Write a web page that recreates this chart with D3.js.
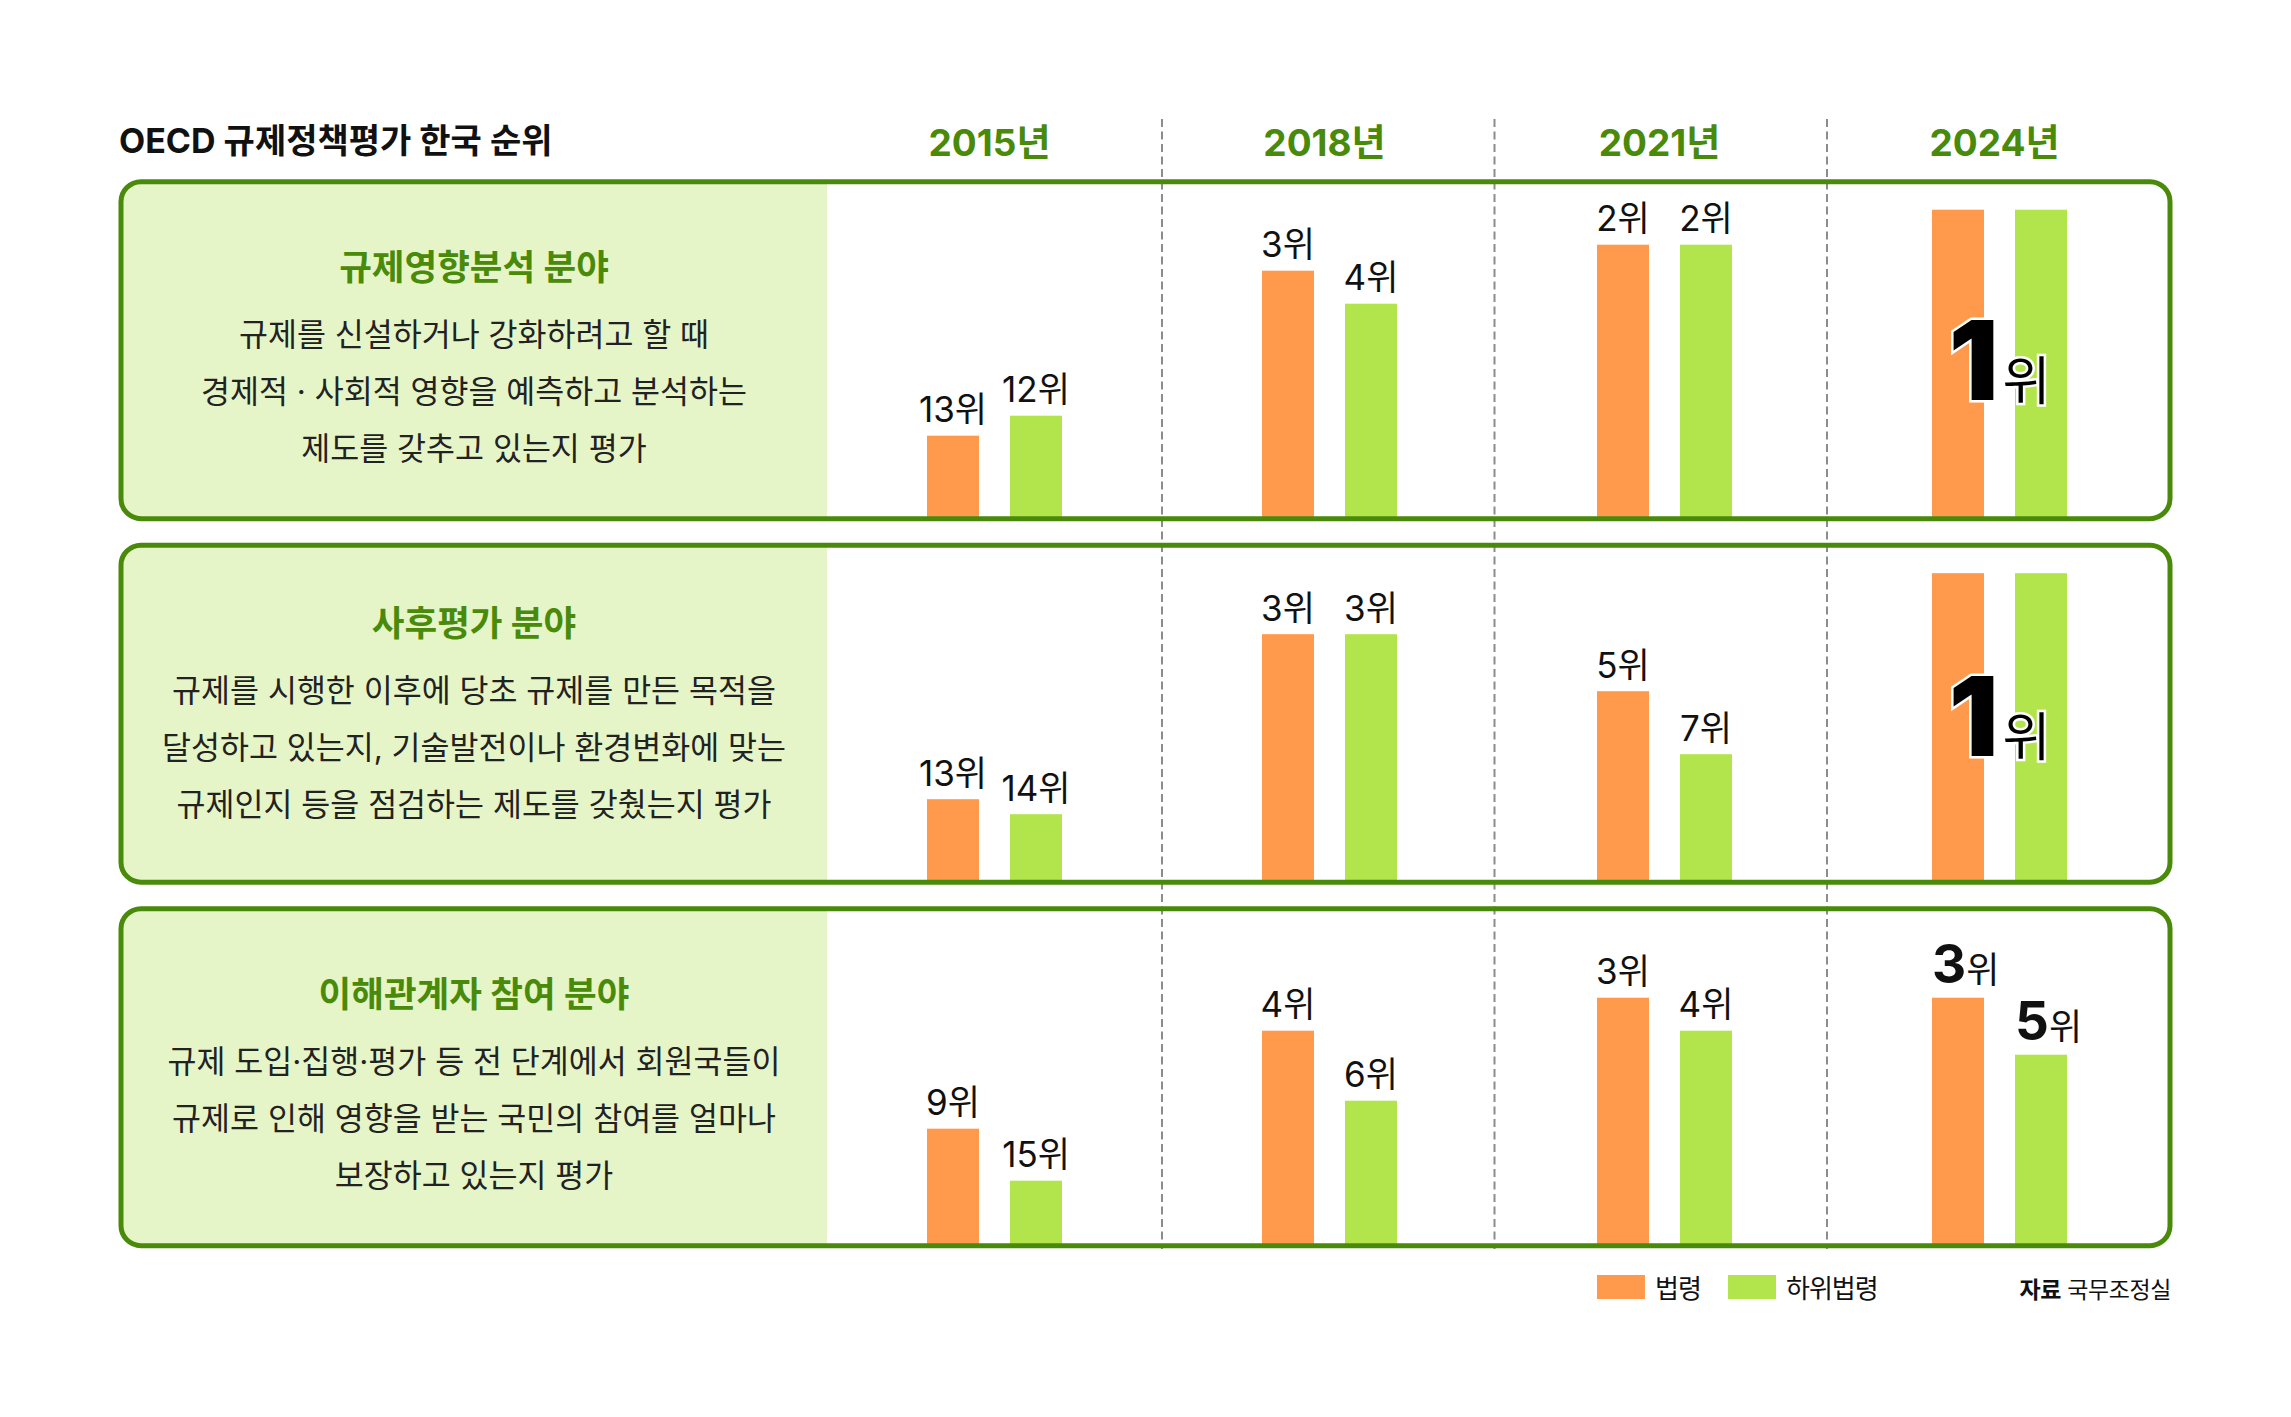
<!DOCTYPE html>
<html><head><meta charset="utf-8">
<script src="https://cdn.jsdelivr.net/npm/d3@7"></script>
<style>
body{margin:0;background:#fff;}
svg{display:block;}
text{font-family:Inter,"Noto Sans CJK KR","Noto Sans",sans-serif;}
</style>
</head><body>
<svg id="chart" width="2291" height="1417"></svg>
<script>
// ---------- data ----------
const title = 'OECD 규제정책평가 한국 순위';
const years = ['2015', '2018', '2021', '2024'];
const yearSuffix = '년';
const series = ['법령', '하위법령'];
const fields = ['규제영향분석 분야', '사후평가 분야', '이해관계자 참여 분야'];
const descriptions = [
  ['규제를 신설하거나 강화하려고 할 때', '경제적 · 사회적 영향을 예측하고 분석하는', '제도를 갖추고 있는지 평가'],
  ['규제를 시행한 이후에 당초 규제를 만든 목적을', '달성하고 있는지, 기술발전이나 환경변화에 맞는', '규제인지 등을 점검하는 제도를 갖췄는지 평가'],
  ['규제 도입·집행·평가 등 전 단계에서 회원국들이', '규제로 인해 영향을 받는 국민의 참여를 얼마나', '보장하고 있는지 평가']
];
const lawRanks    = [[13, 3, 2, 1], [13, 3, 5, 1], [9, 4, 3, 3]];   // 법령
const subLawRanks = [[12, 4, 2, 1], [14, 3, 7, 1], [15, 6, 4, 5]];  // 하위법령
const rankSuffix = '위';
const sourceLabel = '자료';
const sourceName = '국무조정실';

// ---------- layout ----------
const colors = { law: '#ff9a4c', sub: '#b2e44c', green: '#4a8a0a', fill: '#e6f5c8', dash: '#8c8c8c', text: '#222' };
const boxX = 121, boxRight = 2170, infoRight = 827, radius = 20, strokeW = 5;
const textShift = [0, -7, 0];

const svg = d3.select('#chart');
svg.append('rect').attr('width', 2291).attr('height', 1417).attr('fill', '#fff');

const x0 = d3.scaleBand().domain(years).range([827, 2167]);
const x1 = d3.scaleBand().domain(series).range([-67.5, 67.5]).paddingInner(0.3735);
const py = d3.scaleBand().domain(fields).range([181.7, 1245.7]).paddingInner(0.0729);
const sepX = d3.scalePoint().domain(years.slice(1)).range([1162, 1827]);
// rank -> bar height (higher rank = taller bar)
const rankToHeight = d3.scaleLinear()
  .domain([1, 2, 3, 4, 5, 6, 7, 9, 12, 13, 14, 15])
  .range([307, 272, 246, 213, 189, 143, 126, 115, 101, 81, 66, 63]);
const colorOf = d3.scaleOrdinal().domain(series).range([colors.law, colors.sub]);

// title
svg.append('text').attr('x', 119).attr('y', 153)
  .attr('font-size', 34).attr('font-weight', 700).attr('fill', '#111')
  .text(title);

// year headers
svg.selectAll('.year').data(years).join('text')
  .attr('x', d => x0(d) + x0.bandwidth() / 2 - 5).attr('y', 155.5)
  .attr('text-anchor', 'middle').attr('font-size', 37).attr('font-weight', 700)
  .attr('fill', colors.green).text(d => d + yearSuffix);

// dashed separators
svg.selectAll('.sep').data(years.slice(1)).join('line')
  .attr('x1', d => sepX(d)).attr('x2', d => sepX(d))
  .attr('y1', 119).attr('y2', 1249)
  .attr('stroke', colors.dash).attr('stroke-width', 2).attr('stroke-dasharray', '8,4.5');

const defs = svg.append('defs');

fields.forEach((field, i) => {
  const top = py(field), h = py.bandwidth();
  const base = top + h - 2;
  const g = svg.append('g');
  const clipId = 'clip' + i;
  defs.append('clipPath').attr('id', clipId).append('rect')
    .attr('x', boxX).attr('y', top).attr('width', boxRight - boxX).attr('height', h)
    .attr('rx', radius).attr('ry', radius);
  g.append('rect').attr('clip-path', `url(#${clipId})`)
    .attr('x', boxX).attr('y', top).attr('width', infoRight - boxX).attr('height', h)
    .attr('fill', colors.fill);

  const rows = years.map((y, j) => ({ year: y, law: lawRanks[i][j], sub: subLawRanks[i][j] }));
  const bars = [];
  rows.forEach(r => {
    bars.push({ year: r.year, s: series[0], rank: r.law, row: r });
    bars.push({ year: r.year, s: series[1], rank: r.sub, row: r });
  });

  g.selectAll('.bar').data(bars).join('rect')
    .attr('x', d => x0(d.year) + x0.bandwidth() / 2 + x1(d.s))
    .attr('width', x1.bandwidth())
    .attr('y', d => base - rankToHeight(d.rank))
    .attr('height', d => rankToHeight(d.rank) + 2)
    .attr('fill', d => colorOf(d.s));

  g.append('rect')
    .attr('x', boxX).attr('y', top).attr('width', boxRight - boxX).attr('height', h)
    .attr('rx', radius).attr('ry', radius)
    .attr('fill', 'none').attr('stroke', colors.green).attr('stroke-width', strokeW);

  // text block
  const cx = (boxX + infoRight) / 2;
  const ty = top + textShift[i];
  g.append('text').attr('x', cx).attr('y', ty + 98)
    .attr('text-anchor', 'middle').attr('font-size', 35.5).attr('font-weight', 700)
    .attr('fill', colors.green).text(field);
  g.selectAll('.desc').data(descriptions[i]).join('text')
    .attr('x', cx).attr('y', (d, k) => ty + 164 + k * 57)
    .attr('text-anchor', 'middle').attr('font-size', 31.5).attr('fill', colors.text)
    .text(d => d);

  // labels
  const last = years[years.length - 1];
  rows.forEach(r => {
    const gc = x0(r.year) + x0.bandwidth() / 2;
    if (r.law === 1 && r.sub === 1) {
      const t = g.append('text').attr('x', gc).attr('y', ty + 218)
        .attr('text-anchor', 'middle').attr('fill', '#000')
        .attr('stroke', '#fff').attr('stroke-width', 5).attr('paint-order', 'stroke')
        .attr('stroke-linejoin', 'miter');
      t.append('tspan').attr('font-size', 110).attr('font-weight', 900).text(1);
      t.append('tspan').attr('dx', 4).attr('font-size', 52).attr('font-weight', 400).text(rankSuffix);
    } else {
      bars.filter(b => b.row === r).forEach(b => {
        const bx = gc + x1(b.s);
        const topY = base - rankToHeight(b.rank);
        if (r.year === last) {
          const t = g.append('text').attr('x', bx).attr('y', topY - 15).attr('fill', '#111');
          t.append('tspan').attr('font-size', 53).attr('font-weight', 700).text(b.rank);
          t.append('tspan').attr('font-size', 36).attr('font-weight', 400).text(rankSuffix);
        } else {
          g.append('text').attr('x', bx + x1.bandwidth() / 2).attr('y', topY - 13.5)
            .attr('text-anchor', 'middle').attr('font-size', 35).attr('fill', '#111')
            .text(b.rank + rankSuffix);
        }
      });
    }
  });
});

// legend
const lg = svg.append('g');
const legendX = d3.scaleOrdinal().domain(series).range([1597, 1728]);
lg.selectAll('.lr').data(series).join('rect')
  .attr('x', d => legendX(d)).attr('y', 1275).attr('width', 48).attr('height', 24)
  .attr('fill', d => colorOf(d));
lg.selectAll('.lt').data(series).join('text')
  .attr('x', d => legendX(d) + 58).attr('y', 1298)
  .attr('font-size', 26).attr('letter-spacing', -1).attr('fill', '#111').text(d => d);

// source
const st = svg.append('text').attr('x', 2171).attr('y', 1298)
  .attr('text-anchor', 'end').attr('font-size', 23).attr('letter-spacing', -0.4).attr('fill', '#111');
st.append('tspan').attr('font-weight', 700).text(sourceLabel);
st.append('tspan').attr('font-weight', 400).text(' ' + sourceName);
</script>
</body></html>
